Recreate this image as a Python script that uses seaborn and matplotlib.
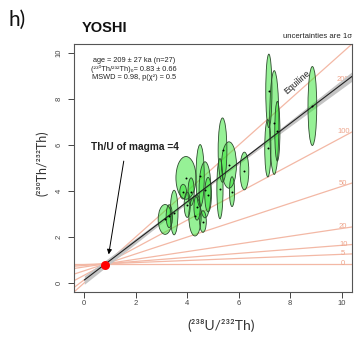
import numpy as np
import pandas as pd
import matplotlib
matplotlib.use("Agg")
import matplotlib.pyplot as plt
from matplotlib.patches import Ellipse
import seaborn as sns

# ---------------- data ----------------
ell_x  = [3.14, 3.49, 3.95, 3.84, 4.15, 4.30, 4.38, 4.50, 4.69, 4.81, 4.61, 4.00, 3.30,
          5.37, 5.62, 5.27, 5.74, 6.22, 7.17, 7.38, 7.50, 7.13, 8.86]
ell_y  = [2.76, 3.06, 4.57, 3.97, 3.97, 2.90, 3.28, 4.66, 4.05, 3.84, 2.67, 3.40, 2.90,
          5.78, 5.13, 4.10, 3.97, 4.87, 8.36, 6.98, 6.60, 5.86, 7.70]
ell_sx = [0.27, 0.15, 0.39, 0.13, 0.12, 0.24, 0.12, 0.16, 0.23, 0.13, 0.13, 0.12, 0.12,
          0.17, 0.29, 0.12, 0.10, 0.17, 0.12, 0.18, 0.10, 0.12, 0.17]
ell_sy = [0.65, 0.97, 0.93, 0.32, 0.60, 0.86, 0.55, 1.36, 1.22, 0.75, 0.47, 0.55, 0.50,
          1.40, 1.01, 1.31, 0.65, 0.82, 1.60, 2.26, 1.30, 1.25, 1.72]

iso_ages = [0, 5, 10, 20, 50, 100, 200]          # ka
iso_labels = ["0", "5", "10", "20", "50", "100", "200"]
lambda230 = 9.1577e-6                              # 1/yr
initial_ratio = 0.83
fit_age = 209.0                                    # ka
fit_age_err = 27.0
magma_point = (0.80, 0.78)

stats_lines = ["age = 209 ± 27 ka (n=27)",
               "(²³⁰Th/²³²Th)₀= 0.83 ± 0.66",
               "MSWD = 0.98, p(χ²) = 0.5"]

xticks = [0, 2, 4, 6, 8, 10]
yticks = [0, 2, 4, 6, 8, 10]

# ---------------- style ----------------
sns.set_style("white")
plt.rcParams['font.family'] = ['Liberation Sans', 'DejaVu Sans']

W, H = 355, 338
fig = plt.figure(figsize=(W / 100, H / 100), dpi=100)
ax = fig.add_axes([74 / W, 1 - 292 / H, (352 - 74) / W, (292 - 44) / H])
XMIN, XMAX, YMIN, YMAX = -0.4, 10.4, -0.4, 10.4
ax.set_xlim(XMIN, XMAX)
ax.set_ylim(YMIN, YMAX)

salmon = "#f3b8a5"
xx = np.linspace(XMIN, XMAX, 50)

# isochron reference lines
for age, lab in zip(iso_ages, iso_labels):
    d = np.exp(-lambda230 * age * 1000)
    yy = initial_ratio * d + (1 - d) * xx
    sns.lineplot(x=xx, y=yy, ax=ax, color=salmon, lw=0.9, zorder=1)
    ax.text(10.06, initial_ratio * d + (1 - d) * XMAX, lab, color="#eea58c",
            fontsize=5.5, ha="center", va="center", zorder=1.5)
# equiline
sns.lineplot(x=xx, y=xx, ax=ax, color=salmon, lw=0.9, zorder=1)
ax.text(8.26, 8.72, "Equiline", rotation=41, fontsize=6.3, color="#222222",
        ha="center", va="center", zorder=6)

# fitted isochron + envelope
d = np.exp(-lambda230 * fit_age * 1000)
slope = 1 - d
icpt = initial_ratio * d
slope_err = lambda230 * d * fit_age_err * 1000
xf = np.linspace(0, XMAX, 80)
yf = icpt + slope * xf
half = np.sqrt(0.05 ** 2 + ((xf - 4.9) * slope_err) ** 2)
ax.fill_between(xf, yf - half, yf + half, color="#c4c4c4", lw=0, zorder=2)

# ellipses
for x, y, sx, sy in zip(ell_x, ell_y, ell_sx, ell_sy):
    ax.add_patch(Ellipse((x, y), 2 * sx, 2 * sy, facecolor="#2ee42e", alpha=0.5,
                         edgecolor="none", zorder=3))
    ax.add_patch(Ellipse((x, y), 2 * sx, 2 * sy, facecolor="none",
                         edgecolor="#2d4a2d", lw=0.6, zorder=3.5))

sns.lineplot(x=xf, y=yf, ax=ax, color="#222222", lw=0.8, zorder=4)
sns.scatterplot(x=ell_x, y=ell_y, ax=ax, color="black", s=2, linewidth=0, zorder=5)

# magma point & annotation
sns.scatterplot(x=[magma_point[0]], y=[magma_point[1]], ax=ax, color="#ff0000",
                s=42, linewidth=0, zorder=6)
ax.annotate("", xy=(0.93, 1.12), xytext=(1.55, 5.42),
            arrowprops=dict(arrowstyle="-|>", color="black", lw=0.7,
                            mutation_scale=7), zorder=6)
ax.text(1.95, 5.92, "Th/U of magma =4", fontsize=7.3, fontweight="bold",
        ha="center", va="center", color="#222222", zorder=6)

# stats text
for i, line in enumerate(stats_lines):
    ax.text(0.216, 0.932 - 0.034 * i, line, transform=ax.transAxes, fontsize=5.3,
            ha="center", va="center", color="#222222")

# axes styling
ax.set_xticks(xticks)
ax.set_yticks(yticks)
ax.set_xticklabels([str(t) for t in xticks])
ax.set_yticklabels([str(t) for t in yticks], rotation=90, va="center")
ax.tick_params(axis="both", direction="out", length=4, width=0.7, colors="#444444",
               labelsize=5.5, pad=2, bottom=True, left=True)
ax.tick_params(axis="y", pad=4)
for s in ax.spines.values():
    s.set_color("#555555")
    s.set_linewidth(0.8)
ax.set_xlabel("")
ax.set_ylabel("")

fig.text(42 / W, 1 - 163 / H, "(²³⁰Th/²³²Th)", rotation=90, ha="center", va="center",
         fontsize=9, color="#333333", family=["Lato", "DejaVu Sans"])
fig.text(221 / W, 1 - 325 / H, "(²³⁸U/²³²Th)", ha="center", va="center",
         fontsize=10, color="#333333", family=["Lato", "DejaVu Sans"])
fig.text(105 / W, 1 - 28 / H, "YOSHI", ha="center", va="center", fontsize=10.5,
         fontweight="bold", color="#111111")
fig.text(8 / W, 1 - 20 / H, "h)", ha="left", va="center", fontsize=15,
         color="#111111", family=["Lato", "DejaVu Sans"])
fig.text(352 / W, 1 - 36 / H, "uncertainties are 1σ", ha="right", va="center",
         fontsize=5.6, color="#222222")

fig.savefig("out.png", dpi=100)
